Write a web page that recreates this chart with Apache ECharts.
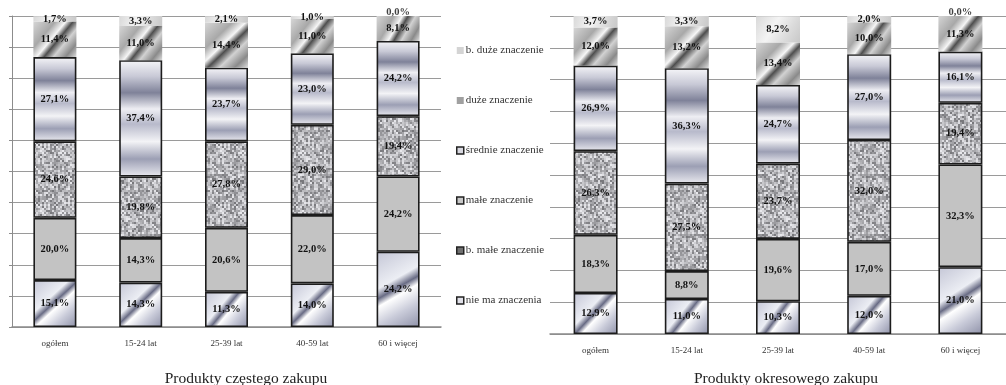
<!DOCTYPE html>
<html><head><meta charset="utf-8">
<script src="https://cdn.jsdelivr.net/npm/echarts@6/dist/echarts.min.js"></script>
<style>html,body{margin:0;padding:0;background:#fff}#c{width:1006px;height:385px}</style>
</head><body><div id="c"></div>
<script>
const categories = ['ogółem', '15-24 lat', '25-39 lat', '40-59 lat', '60 i więcej'];
const seriesNames = ['nie ma znaczenia', 'b. małe znaczenie', 'małe znaczenie', 'średnie znaczenie', 'duże znaczenie', 'b. duże znaczenie'];
const legendOrder = ['b. duże znaczenie', 'duże znaczenie', 'średnie znaczenie', 'małe znaczenie', 'b. małe znaczenie', 'nie ma znaczenia'];
const titleLeft = 'Produkty częstego zakupu';
const titleRight = 'Produkty okresowego zakupu';

// Produkty częstego zakupu (bottom → top segments)
const czestyNieMa   = [15.1, 14.3, 11.3, 14.0, 24.2];
const czestyBMale   = [20.0, 14.3, 20.6, 22.0, 24.2];
const czestyMale    = [24.6, 19.8, 27.8, 29.0, 19.4];
const czestySrednie = [27.1, 37.4, 23.7, 23.0, 24.2];
const czestyDuze    = [11.4, 11.0, 14.4, 11.0, 8.1];
const czestyBDuze   = [1.7, 3.3, 2.1, 1.0, 0.0];

// Produkty okresowego zakupu
const okresNieMa   = [12.9, 11.0, 10.3, 12.0, 21.0];
const okresBMale   = [18.3, 8.8, 19.6, 17.0, 32.3];
const okresMale    = [26.3, 27.5, 23.7, 32.0, 19.4];
const okresSrednie = [26.9, 36.3, 24.7, 27.0, 16.1];
const okresDuze    = [12.0, 13.2, 13.4, 10.0, 11.3];
const okresBDuze   = [3.7, 3.3, 8.2, 2.0, 0.0];

const czesty = [czestyNieMa, czestyBMale, czestyMale, czestySrednie, czestyDuze, czestyBDuze];
const okres  = [okresNieMa, okresBMale, okresMale, okresSrednie, okresDuze, okresBDuze];

// textures (deterministic speckle for the granite fill)
function noiseCanvas(size, cell, base, spread, seed) {
  const c = document.createElement('canvas'); c.width = c.height = size;
  const ctx = c.getContext('2d');
  let s = seed >>> 0;
  for (let y = 0; y < size; y += cell) {
    for (let x = 0; x < size; x += cell) {
      s = (s * 1664525 + 1013904223) >>> 0;
      const r = (s >>> 8) / 16777216;
      const v = Math.round(Math.max(0, Math.min(255, base + (r - 0.5) * spread)));
      ctx.fillStyle = 'rgb(' + v + ',' + v + ',' + Math.min(255, v + 4) + ')';
      ctx.fillRect(x, y, cell, cell);
    }
  }
  return c;
}
const granite = noiseCanvas(60, 2, 176, 115, 12345);
const lin = (x, y, x2, y2, stops) => ({type: 'linear', x, y, x2, y2, colorStops: stops.map(s => ({offset: s[0], color: s[1]}))});

const fills = [
  lin(0, 0, 1, 1, [[0, '#c4c6d6'], [0.38, '#eceef4'], [0.48, '#686b84'], [0.56, '#ffffff'], [0.75, '#c9cbd9'], [1, '#8e91a8']]),
  '#c3c3c3',
  {image: granite, repeat: 'repeat'},
  lin(0, 0, 0, 1, [[0, '#f6f6f9'], [0.14, '#c8c9d6'], [0.28, '#7f8299'], [0.42, '#eeeef3'], [0.55, '#b8bacb'], [0.7, '#f3f3f6'], [0.85, '#9c9fb4'], [1, '#e9e9ef']]),
  lin(0, 0, 1, 1, [[0, '#d6d6d6'], [0.3, '#a8a8a8'], [0.45, '#f6f6f6'], [0.55, '#4e4e4e'], [0.68, '#d2d2d2'], [0.85, '#8a8a8a'], [1, '#dedede']]),
  lin(0, 0, 1, 1, [[0, '#d9d9d9'], [0.4, '#f4f4f4'], [0.7, '#dcdcdc'], [1, '#c8c8c8']])
];
const bordered = [true, true, true, true, false, false];
const legendIcons = {
  'b. duże znaczenie': {color: '#d4d4d4', borderWidth: 0},
  'duże znaczenie': {color: '#a0a0a0', borderWidth: 0},
  'średnie znaczenie': {color: '#d8d8e0', borderColor: '#222', borderWidth: 1.5},
  'małe znaczenie': {color: '#c8c8c8', borderColor: '#222', borderWidth: 1.5},
  'b. małe znaczenie': {color: '#707070', borderColor: '#222', borderWidth: 1.5},
  'nie ma znaczenia': {color: '#e0e0e8', borderColor: '#222', borderWidth: 1.5}
};

const fmt = v => v.toFixed(1).replace('.', ',') + '%';
const serif = 'Liberation Serif';
const labelStyle = {color: '#111', fontFamily: serif, fontWeight: 'bold', fontSize: 10.5};

function makeSeries(sets, gi, stack, barW) {
  const out = sets.map((vals, i) => ({
    name: seriesNames[i], type: 'bar', stack, xAxisIndex: gi, yAxisIndex: gi,
    barWidth: barW,
    itemStyle: {color: fills[i], borderColor: bordered[i] ? '#1c1c1c' : 'transparent', borderWidth: bordered[i] ? 1.6 : 0},
    label: Object.assign({show: true, position: 'inside', formatter: p => fmt(p.value)}, labelStyle),
    emphasis: {disabled: true},
    data: vals
  }));
  // labels for zero-height top segments, placed at the stack total
  const top = sets[sets.length - 1];
  const zeroPts = [];
  categories.forEach((c, j) => {
    if (top[j] === 0) {
      const total = sets.reduce((a, s) => a + s[j], 0);
      zeroPts.push({value: [j, total], lbl: top[j]});
    }
  });
  out.push({
    type: 'scatter', xAxisIndex: gi, yAxisIndex: gi, symbol: 'rect', symbolSize: 1, clip: false, silent: true,
    itemStyle: {color: 'rgba(0,0,0,0)'},
    label: Object.assign({show: true, position: 'top', distance: -3, formatter: p => fmt(p.data.lbl)}, labelStyle),
    data: zeroPts
  });
  return out;
}

const yAx = (gi, showLine) => ({
  type: 'value', gridIndex: gi, min: 0, max: 100, interval: 10,
  axisLabel: {show: false},
  axisLine: {show: showLine, lineStyle: {color: '#8c8c8c'}},
  axisTick: {show: showLine, length: 3, lineStyle: {color: '#8c8c8c'}},
  splitLine: {lineStyle: {color: '#9a9a9a', width: 1}}
});
const xAx = gi => ({
  type: 'category', gridIndex: gi, data: categories,
  axisLine: {lineStyle: {color: '#8a8a8a', width: 1.5}},
  axisTick: {length: 3, lineStyle: {color: '#8a8a8a'}},
  axisLabel: {color: '#333', fontFamily: serif, fontSize: 9, margin: 12}
});

const chart = echarts.init(document.getElementById('c'), null, {renderer: 'canvas'});
chart.setOption({
  animation: false,
  title: [
    {text: titleLeft, left: 241, top: 366, textAlign: 'center', textStyle: {fontFamily: serif, fontWeight: 'normal', fontSize: 15.5, color: '#222'}},
    {text: titleRight, left: 781, top: 366, textAlign: 'center', textStyle: {fontFamily: serif, fontWeight: 'normal', fontSize: 15.5, color: '#222'}}
  ],
  legend: {
    orient: 'vertical', left: 451, top: 40, itemGap: 39, itemWidth: 7, itemHeight: 7,
    selectedMode: false,
    textStyle: {fontFamily: serif, fontSize: 11, color: '#333', padding: [0, 0, 0, -3]},
    data: legendOrder.map(n => ({name: n, icon: 'rect', itemStyle: legendIcons[n]}))
  },
  grid: [
    {left: 12, top: 16, width: 429, height: 311},
    {left: 550, top: 16, width: 461, height: 318}
  ],
  xAxis: [xAx(0), xAx(1)],
  yAxis: [yAx(0, true), yAx(1, false)],
  series: [...makeSeries(czesty, 0, 'a', 43), ...makeSeries(okres, 1, 'b', 44)]
});
</script></body></html>
